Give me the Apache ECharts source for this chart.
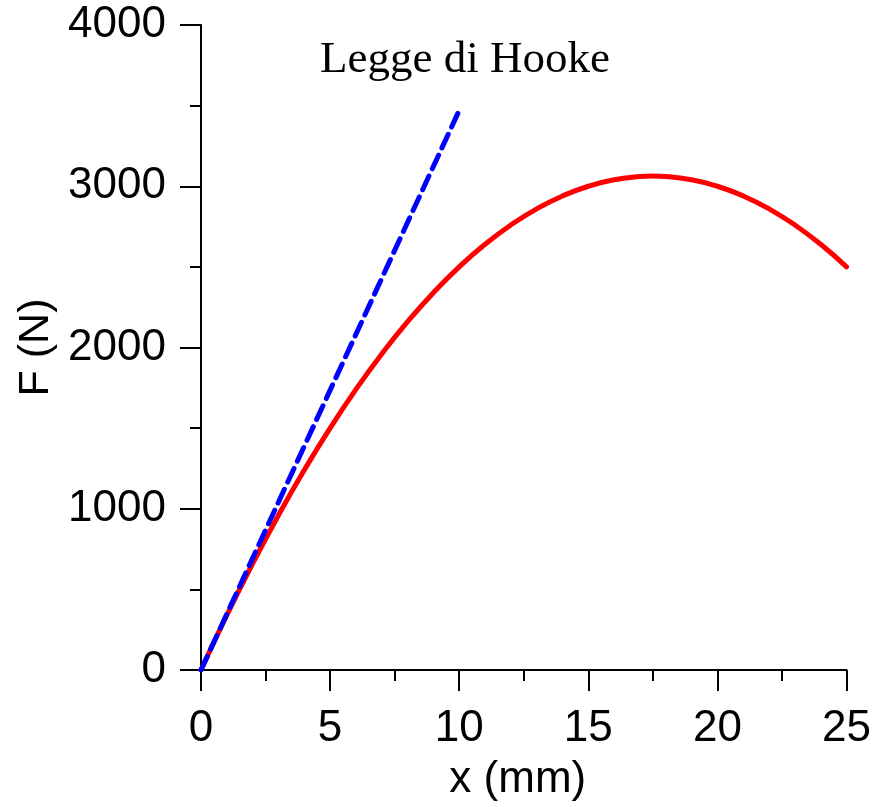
<!DOCTYPE html>
<html>
<head>
<meta charset="utf-8">
<script src="https://cdn.jsdelivr.net/npm/echarts@6/dist/echarts.min.js"></script>
<style>
html,body{margin:0;padding:0;background:#fff;}
#chart{width:874px;height:807px;}
</style>
</head>
<body>
<div id="chart"></div>
<script>
// Data
const curveX = [0,1,2,3,4,5,6,7,8,9,10,11,12,13,14,15,16,17,17.5,18,19,20,21,22,23,24,25];
const curveF = [0,340,660,960,1240,1500,1740,1960,2160,2340,2500,2640,2760,2860,2940,3000,3040,3060,3063,3060,3040,3000,2940,2860,2760,2640,2500];
const hookeX = [0,10];
const hookeF = [0,3470];
const xTicks = [0,5,10,15,20,25];
const yTicks = [0,1000,2000,3000,4000];
const annotation = 'Legge di Hooke';
const xName = 'x (mm)';
const yName = 'F (N)';

const sans = 'Liberation Sans, Arial, sans-serif';
const chart = echarts.init(document.getElementById('chart'), null, {renderer:'canvas'});

const axisCommon = {
  axisLine:{show:true,onZero:false,lineStyle:{color:'#000',width:2}},
  axisTick:{show:true,inside:false,length:21,lineStyle:{color:'#000',width:2}},
  minorTick:{show:true,splitNumber:2,length:11,lineStyle:{color:'#000',width:2}},
  splitLine:{show:false},
  minorSplitLine:{show:false}
};

chart.setOption({
  animation:false,
  backgroundColor:'#fff',
  grid:{left:201,top:25,width:648,height:648,containLabel:false},
  xAxis:Object.assign({
    type:'value',min:xTicks[0],max:xTicks[xTicks.length-1],interval:5,
    name:xName,nameLocation:'middle',nameGap:88,
    nameTextStyle:{fontFamily:sans,fontSize:44,color:'#000',padding:[0,12,0,0]},
    axisLabel:{margin:37,fontFamily:sans,fontSize:44,color:'#000',formatter:v=>String(v)}
  },axisCommon),
  yAxis:Object.assign({
    type:'value',min:yTicks[0],max:yTicks[yTicks.length-1],interval:1000,
    name:yName,nameLocation:'middle',nameGap:140,nameRotate:90,
    nameTextStyle:{fontFamily:sans,fontSize:43,color:'#000'},
    axisLabel:{margin:35,fontFamily:sans,fontSize:44,color:'#000',formatter:v=>String(v)}
  },axisCommon),
  graphic:[{
    type:'text',left:320,top:38,silent:true,
    style:{text:annotation,fontFamily:'Liberation Serif, Times New Roman, serif',fontSize:45,fill:'#000'}
  }],
  series:[
    {type:'line',data:curveX.map((x,i)=>[x,curveF[i]]),smooth:true,showSymbol:false,
     lineStyle:{color:'#ff0000',width:5,cap:'round'},z:2},
    {type:'line',data:hookeX.map((x,i)=>[x,hookeF[i]]),showSymbol:false,
     lineStyle:{color:'#0000ff',width:5,type:[15,8],cap:'round'},z:3}
  ]
});
</script>
</body>
</html>
